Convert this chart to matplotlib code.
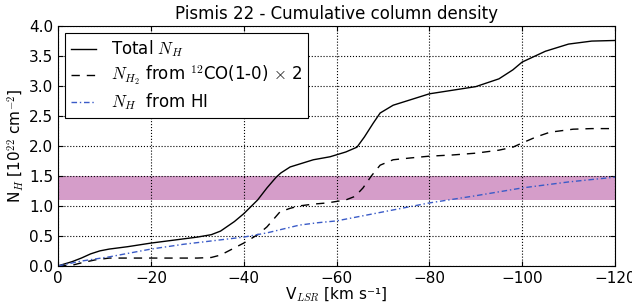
import matplotlib
matplotlib.use('Agg')
import matplotlib.pyplot as plt
import numpy as np

plt.rcParams['mathtext.fontset'] = 'cm'
plt.rcParams['font.size'] = 11
plt.rcParams['xtick.direction'] = 'in'
plt.rcParams['ytick.direction'] = 'in'
plt.rcParams['xtick.top'] = True
plt.rcParams['ytick.right'] = True

# Total N_H
v_tot = [0, -3, -5, -7, -9, -11, -15, -20, -25, -30, -33, -35, -38, -40, -43, -45, -47, -48,
         -50, -55, -58.6, -62, -64.4, -66, -67.9, -69.4, -72.2, -75.9, -80, -85, -90, -95, -98,
         -100, -105, -110, -115, -120]
n_tot = [0, 0.07, 0.13, 0.2, 0.25, 0.28, 0.32, 0.38, 0.43, 0.48, 0.52, 0.58, 0.74, 0.87, 1.1,
         1.3, 1.48, 1.55, 1.65, 1.77, 1.82, 1.9, 1.98, 2.15, 2.38, 2.55, 2.68, 2.77, 2.87, 2.93,
         2.99, 3.12, 3.27, 3.4, 3.58, 3.7, 3.75, 3.76]

# N_H2 from 12CO x 2
v_h2 = [0, -3, -5, -8, -11, -15, -20, -25, -30, -33, -35, -38, -40, -43, -45, -47.8, -50, -52,
        -55, -58, -62, -64, -65.7, -67.5, -69.4, -72.2, -75.9, -80, -85, -90, -95, -98, -100,
        -103, -106, -111, -115, -120]
n_h2 = [0, 0.01, 0.05, 0.1, 0.13, 0.13, 0.13, 0.13, 0.13, 0.14, 0.18, 0.3, 0.38, 0.52, 0.65,
        0.9, 0.96, 1.0, 1.03, 1.05, 1.1, 1.16, 1.3, 1.5, 1.68, 1.77, 1.8, 1.83, 1.85, 1.88, 1.93,
        1.98, 2.05, 2.15, 2.23, 2.28, 2.29, 2.29]

# N_H from HI
v_hi = [0, -5, -11, -20, -27, -33.5, -40, -45, -52, -56, -60, -70, -80, -90, -100, -110, -120]
n_hi = [0, 0.08, 0.15, 0.28, 0.36, 0.42, 0.48, 0.55, 0.68, 0.72, 0.75, 0.9, 1.05, 1.17, 1.3,
        1.4, 1.48]

band_lo, band_hi = 1.1, 1.5

fig = plt.figure(figsize=(6.32, 3.07), dpi=100)
ax = fig.add_axes([0.092, 0.134, 0.881, 0.781])

ax.axhspan(band_lo, band_hi, color='#d59dc9', lw=0, zorder=0)
ax.plot(v_tot, n_tot, color='k', lw=1, label='Total $N_H$')
ax.plot(v_h2, n_h2, color='k', lw=1, ls=(0, (6, 5)),
        label='$N_{H_2}$ from $^{12}$CO(1-0) $\\times$ 2')
ax.plot(v_hi, n_hi, color='#3a5bc7', lw=1, ls=(0, (4, 2, 1, 2)), label='$N_H$  from HI')

ax.set_xlim(0, -120)
ax.set_ylim(0, 4)
ax.set_xticks(np.arange(0, -121, -20))
ax.set_yticks(np.arange(0, 4.01, 0.5))
ax.grid(True, color='k', ls=':', lw=0.8)
ax.set_axisbelow(True)
ax.set_xlabel('V$_{LSR}$ [km s⁻¹]', labelpad=0)
ax.set_ylabel('N$_H$ [10$^{22}$ cm$^{-2}$]', labelpad=2)
ax.set_title('Pismis 22 - Cumulative column density', fontsize=12, pad=5)

leg = ax.legend(loc='upper left', fancybox=False, framealpha=1, edgecolor='k', fontsize=12,
                handlelength=1.5, handletextpad=0.9, labelspacing=0.25, borderaxespad=0.4,
                borderpad=0.35)
leg.get_frame().set_linewidth(0.8)

fig.savefig('out.png', dpi=100)
